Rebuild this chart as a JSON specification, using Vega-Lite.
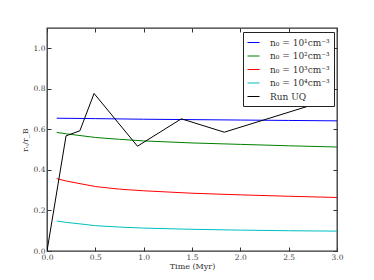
{
  "$schema": "https://vega.github.io/schema/vega-lite/v6.json",
  "width": 290,
  "height": 223,
  "autosize": {"type": "none"},
  "padding": {"left": 47, "top": 28, "right": 37, "bottom": 29},
  "background": "white",
  "config": {
    "view": {"stroke": "#333", "strokeWidth": 1.3},
    "font": "DejaVu Serif",
    "axis": {"labelFont": "DejaVu Serif", "titleFont": "DejaVu Serif", "labelFontSize": 7.5, "titleFontSize": 8, "titleFontWeight": "normal", "labelColor": "#444", "titleColor": "#333", "grid": false, "domain": false, "tickColor": "#333", "tickSize": -4, "tickWidth": 1}
  },
  "data": {"values": [
    {"t": 0.1, "v": 0.655, "s": "n₀ = 10¹cm⁻³"},
    {"t": 0.5, "v": 0.653, "s": "n₀ = 10¹cm⁻³"},
    {"t": 1.0, "v": 0.650, "s": "n₀ = 10¹cm⁻³"},
    {"t": 1.5, "v": 0.648, "s": "n₀ = 10¹cm⁻³"},
    {"t": 2.0, "v": 0.646, "s": "n₀ = 10¹cm⁻³"},
    {"t": 2.5, "v": 0.644, "s": "n₀ = 10¹cm⁻³"},
    {"t": 3.0, "v": 0.642, "s": "n₀ = 10¹cm⁻³"},
    {"t": 0.1, "v": 0.585, "s": "n₀ = 10²cm⁻³"},
    {"t": 0.2, "v": 0.578, "s": "n₀ = 10²cm⁻³"},
    {"t": 0.3, "v": 0.572, "s": "n₀ = 10²cm⁻³"},
    {"t": 0.5, "v": 0.560, "s": "n₀ = 10²cm⁻³"},
    {"t": 0.75, "v": 0.551, "s": "n₀ = 10²cm⁻³"},
    {"t": 1.0, "v": 0.543, "s": "n₀ = 10²cm⁻³"},
    {"t": 1.5, "v": 0.533, "s": "n₀ = 10²cm⁻³"},
    {"t": 2.0, "v": 0.526, "s": "n₀ = 10²cm⁻³"},
    {"t": 2.5, "v": 0.519, "s": "n₀ = 10²cm⁻³"},
    {"t": 3.0, "v": 0.513, "s": "n₀ = 10²cm⁻³"},
    {"t": 0.1, "v": 0.357, "s": "n₀ = 10³cm⁻³"},
    {"t": 0.2, "v": 0.345, "s": "n₀ = 10³cm⁻³"},
    {"t": 0.3, "v": 0.336, "s": "n₀ = 10³cm⁻³"},
    {"t": 0.5, "v": 0.318, "s": "n₀ = 10³cm⁻³"},
    {"t": 0.75, "v": 0.305, "s": "n₀ = 10³cm⁻³"},
    {"t": 1.0, "v": 0.297, "s": "n₀ = 10³cm⁻³"},
    {"t": 1.5, "v": 0.285, "s": "n₀ = 10³cm⁻³"},
    {"t": 2.0, "v": 0.277, "s": "n₀ = 10³cm⁻³"},
    {"t": 2.5, "v": 0.270, "s": "n₀ = 10³cm⁻³"},
    {"t": 3.0, "v": 0.264, "s": "n₀ = 10³cm⁻³"},
    {"t": 0.1, "v": 0.148, "s": "n₀ = 10⁴cm⁻³"},
    {"t": 0.2, "v": 0.141, "s": "n₀ = 10⁴cm⁻³"},
    {"t": 0.3, "v": 0.136, "s": "n₀ = 10⁴cm⁻³"},
    {"t": 0.5, "v": 0.125, "s": "n₀ = 10⁴cm⁻³"},
    {"t": 0.75, "v": 0.118, "s": "n₀ = 10⁴cm⁻³"},
    {"t": 1.0, "v": 0.113, "s": "n₀ = 10⁴cm⁻³"},
    {"t": 1.5, "v": 0.107, "s": "n₀ = 10⁴cm⁻³"},
    {"t": 2.0, "v": 0.103, "s": "n₀ = 10⁴cm⁻³"},
    {"t": 2.5, "v": 0.100, "s": "n₀ = 10⁴cm⁻³"},
    {"t": 3.0, "v": 0.098, "s": "n₀ = 10⁴cm⁻³"},
    {"t": 0.0, "v": 0.0, "s": "Run UQ"},
    {"t": 0.197, "v": 0.568, "s": "Run UQ"},
    {"t": 0.34, "v": 0.593, "s": "Run UQ"},
    {"t": 0.487, "v": 0.777, "s": "Run UQ"},
    {"t": 0.936, "v": 0.517, "s": "Run UQ"},
    {"t": 1.39, "v": 0.652, "s": "Run UQ"},
    {"t": 1.834, "v": 0.586, "s": "Run UQ"},
    {"t": 2.767, "v": 0.724, "s": "Run UQ"}
  ]},
  "layer": [
    {
      "mark": {"type": "line", "strokeWidth": 1, "clip": true},
      "encoding": {
        "x": {"field": "t", "type": "quantitative", "scale": {"domain": [0, 3]}, "title": "Time (Myr)",
              "axis": {"orient": "bottom", "values": [0, 0.5, 1, 1.5, 2, 2.5, 3], "format": ".1f", "labelPadding": 6, "titlePadding": 2, "labelFlush": false}},
        "y": {"field": "v", "type": "quantitative", "scale": {"domain": [0, 1.1]}, "title": "rᵤ/r_B",
              "axis": {"orient": "left", "values": [0, 0.2, 0.4, 0.6, 0.8, 1.0], "format": ".1f", "labelPadding": 6, "titlePadding": 4, "labelFlush": false}},
        "color": {"field": "s", "type": "nominal",
                  "scale": {"domain": ["n₀ = 10¹cm⁻³", "n₀ = 10²cm⁻³", "n₀ = 10³cm⁻³", "n₀ = 10⁴cm⁻³", "Run UQ"],
                            "range": ["#0000ff", "#008000", "#ff0000", "#00bfbf", "#000000"]},
                  "legend": {"title": null, "orient": "none", "legendX": 196, "legendY": 4, "symbolType": "stroke", "symbolSize": 144, "symbolStrokeWidth": 1, "labelFont": "DejaVu Serif", "labelFontSize": 9, "labelColor": "#333", "strokeColor": "#222", "padding": 4, "rowPadding": 1.5, "fillColor": "white", "labelOffset": 10}}
      }
    },
    {
      "mark": {"type": "point", "opacity": 0},
      "encoding": {
        "x": {"field": "t", "type": "quantitative", "scale": {"domain": [0, 3]}, "axis": {"orient": "top", "values": [0, 0.5, 1, 1.5, 2, 2.5, 3], "labels": false, "title": null}},
        "y": {"field": "v", "type": "quantitative", "scale": {"domain": [0, 1.1]}, "axis": {"orient": "right", "values": [0, 0.2, 0.4, 0.6, 0.8, 1.0], "labels": false, "title": null}}
      }
    }
  ],
  "resolve": {"axis": {"x": "independent", "y": "independent"}}
}
